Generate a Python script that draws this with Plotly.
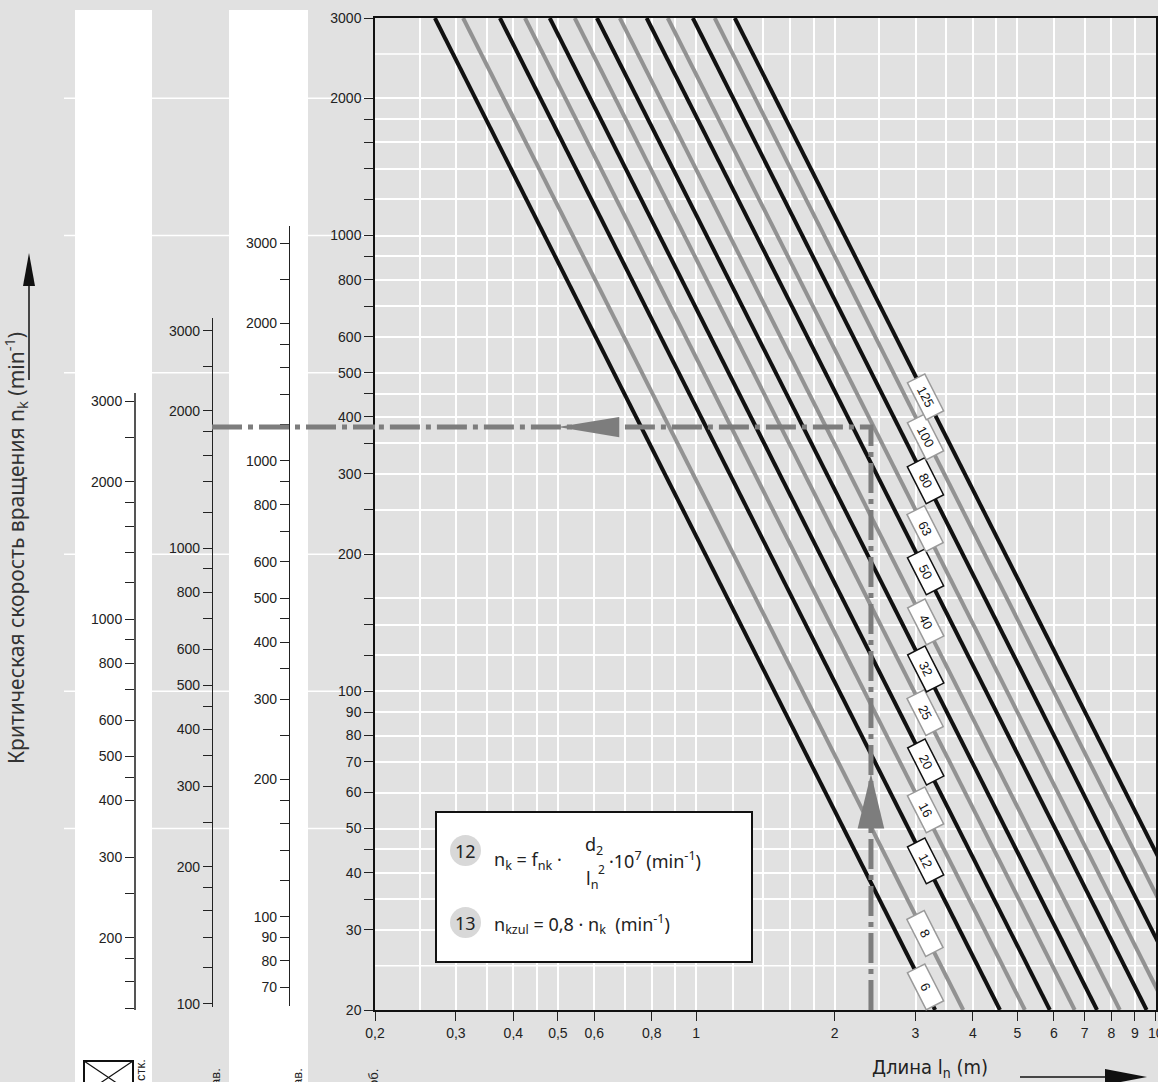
import numpy as np
import plotly.graph_objects as go

W, H = 1158, 1082

# spindle diameters d2 (mm) and where each line crosses n=3000 and n=20
diameters = [6, 8, 12, 16, 20, 25, 32, 40, 50, 63, 80, 100, 125]
len_at_3000 = [0.270, 0.311, 0.374, 0.424, 0.480, 0.544, 0.608, 0.682, 0.780, 0.867, 0.983, 1.097, 1.213]
len_at_20 = [3.31, 3.81, 4.58, 5.19, 5.88, 6.66, 7.45, 8.35, 9.55, 10.6, 12.0, 13.4, 14.9]

# diameter tags sitting on the lines
label_len = 3.15
label_speed = [22.5, 29.5, 42.5, 55, 70, 90, 112, 142, 183, 228, 290, 362, 443]
label_edge = ['g', 'g', 'k', 'g', 'k', 'g', 'k', 'g', 'k', 'g', 'k', 'g', 'g']

# main axes
x_ticks = [0.2, 0.3, 0.4, 0.5, 0.6, 0.8, 1, 2, 3, 4, 5, 6, 7, 8, 9, 10]
x_ticktext = ['0,2', '0,3', '0,4', '0,5', '0,6', '0,8', '1', '2', '3', '4', '5', '6', '7', '8', '9', '10']
x_grid_extra = [0.25, 0.35, 0.45, 0.7, 0.9, 1.2, 1.4, 1.6, 1.8, 2.5, 3.5, 4.5]

y_labels = [20, 30, 40, 50, 60, 70, 80, 90, 100, 200, 300, 400, 500, 600, 800, 1000, 2000, 3000]
y_marks = [35, 45, 120, 140, 160, 250, 350, 450, 700, 900, 1200, 1400, 1600, 1800]
y_grid_extra = [25, 2500]
y_grid_left = [2000, 1000, 500, 200, 100, 50]

# the three side scales (other bearing cases)
scaleA_labels = [200, 300, 400, 500, 600, 800, 1000, 2000, 3000]
scaleA_marks = [140, 160, 180, 250, 450, 700, 900, 1200, 1400, 1600, 1800, 2500]
scaleB_labels = [100, 200, 300, 400, 500, 600, 800, 1000, 2000, 3000]
scaleB_marks = [120, 140, 160, 180, 250, 350, 450, 700, 900, 1200, 1400, 1600, 1800, 2500]
scaleC_labels = [70, 80, 90, 100, 200, 300, 400, 500, 600, 800, 1000, 2000, 3000]
scaleC_marks = [120, 140, 160, 180, 250, 350, 450, 700, 900, 1200, 1400, 1600, 1800, 2500]
scale_factor = {'A': 6.94, 'B': 4.85, 'C': 3.12}

# worked example
example_len = 2.4
example_speed = 380
up_head_x = [2.4, 2.245, 2.565, 2.4]
up_head_y = [66, 50, 50, 66]
left_head_x = [0.5, 0.68, 0.68, 0.5]
left_head_y = [380, 400, 361, 380]


def px_x(p):
    return p / W


def px_y(p):
    return 1 - p / H


TOP, BOTTOM = 18, 1010


def main_log_at(p):
    s = (np.log10(3000) - np.log10(20)) / (BOTTOM - TOP)
    return np.log10(3000) - (p - TOP) * s


BLACK = '#111111'
GRAY = '#929292'
tick_font = dict(family='Liberation Sans, Arial, sans-serif', size=14, color='#222222')
text_font = dict(family='Noto Sans, Open Sans, sans-serif', size=18, color='#222222')

fig = go.Figure()

for i, d in enumerate(diameters):
    fig.add_trace(go.Scatter(
        x=[len_at_3000[i], len_at_20[i]], y=[3000, 20], mode='lines',
        line=dict(color=BLACK if i % 2 == 0 else GRAY, width=4),
        hoverinfo='skip', showlegend=False))

fig.add_trace(go.Scatter(
    x=[example_len, example_len, 0.2], y=[20, example_speed, example_speed], mode='lines',
    line=dict(color='#7d7d7d', width=5, dash='30px,6px,5px,6px'),
    hoverinfo='skip', showlegend=False))
for hx, hy in [(up_head_x, up_head_y), (left_head_x, left_head_y)]:
    fig.add_trace(go.Scatter(x=hx, y=hy, mode='lines', fill='toself', fillcolor='#7d7d7d',
                             line=dict(width=0, color='#7d7d7d'), hoverinfo='skip', showlegend=False))

# invisible anchors so the side scales get drawn
for ax in ['y2', 'y3', 'y4']:
    fig.add_trace(go.Scatter(x=[0.5], y=[300], xaxis='x2', yaxis=ax, mode='markers',
                             marker=dict(opacity=0), hoverinfo='skip', showlegend=False))


def scale_axis(labels, marks, factor, top_px, bottom_px, pos_px, lcolor, lwidth):
    return dict(
        type='log', domain=[px_y(bottom_px), px_y(top_px)],
        range=[main_log_at(bottom_px) + np.log10(factor), main_log_at(top_px) + np.log10(factor)],
        anchor='free', position=px_x(pos_px), side='left',
        tickmode='array', tickvals=labels, ticktext=[str(v) for v in labels],
        ticks='outside', ticklen=9, tickwidth=1, tickcolor='#222222',
        minor=dict(tickmode='array', tickvals=marks, ticks='outside', ticklen=9, tickwidth=1,
                   tickcolor='#222222', showgrid=False),
        showline=True, linecolor=lcolor, linewidth=lwidth,
        showgrid=False, zeroline=False, tickfont=tick_font, fixedrange=True)


fig.update_layout(
    template='none', width=W, height=H, margin=dict(l=0, r=0, t=0, b=0),
    paper_bgcolor='#e1e1e1', plot_bgcolor='rgba(0,0,0,0)', showlegend=False,
    xaxis=dict(
        type='log', domain=[px_x(375), px_x(1156)], range=[np.log10(0.2), 1.0004], anchor='y',
        tickmode='array', tickvals=x_ticks, ticktext=x_ticktext, ticklabeloverflow='allow',
        ticks='outside', ticklen=9, tickwidth=1, tickcolor='#222222',
        showline=True, linecolor='#111111', linewidth=1.5, mirror=True,
        showgrid=True, gridcolor='white', gridwidth=1.5, zeroline=False,
        minor=dict(tickmode='array', tickvals=x_grid_extra, ticks='', showgrid=True,
                   gridcolor='white', gridwidth=1.5),
        tickfont=tick_font, fixedrange=True),
    yaxis=dict(
        type='log', domain=[px_y(BOTTOM), px_y(TOP)], range=[np.log10(20), np.log10(3000)], anchor='x',
        tickmode='array', tickvals=y_labels, ticktext=[str(v) for v in y_labels],
        ticks='outside', ticklen=9, tickwidth=1, tickcolor='#222222',
        showline=True, linecolor='#111111', linewidth=1.5, mirror=True,
        showgrid=True, gridcolor='white', gridwidth=1.5, zeroline=False,
        minor=dict(tickmode='array', tickvals=y_marks, ticks='outside', ticklen=9, tickwidth=1,
                   tickcolor='#222222', showgrid=True, gridcolor='white', gridwidth=1.5),
        tickfont=tick_font, fixedrange=True),
    xaxis2=dict(domain=[0, 0.3], range=[0, 1], visible=False, anchor='y2'),
    yaxis2=scale_axis(scaleA_labels, scaleA_marks, scale_factor['A'], 393, 1010, 135, '#555555', 2),
    yaxis3=scale_axis(scaleB_labels, scaleB_marks, scale_factor['B'], 318, 1007, 212, '#222222', 1.2),
    yaxis4=scale_axis(scaleC_labels, scaleC_marks, scale_factor['C'], 226, 1006, 289, '#222222', 1.2),
)

shapes = []
# white columns behind the side scales
for x0, x1 in [(75, 152), (229, 308)]:
    shapes.append(dict(type='rect', xref='paper', yref='paper', x0=px_x(x0), x1=px_x(x1),
                       y0=0, y1=px_y(10), fillcolor='white', line=dict(width=0), layer='below'))
# some grid lines run on to the left
for v in y_grid_left:
    shapes.append(dict(type='line', xref='paper', yref='y', x0=px_x(64), x1=px_x(375), y0=v, y1=v,
                       line=dict(color='white', width=1.5), layer='below'))
# grid lines with no tick
for v in y_grid_extra:
    shapes.append(dict(type='line', xref='paper', yref='y', x0=px_x(375), x1=px_x(1156), y0=v, y1=v,
                       line=dict(color='white', width=1.5), layer='below'))
# dash-dot reading line continues to scale B
shapes.append(dict(type='line', xref='paper', yref='y', x0=px_x(212), x1=px_x(375),
                   y0=example_speed, y1=example_speed,
                   line=dict(color='#7d7d7d', width=5, dash='30px,6px,5px,6px')))
# formula box
shapes.append(dict(type='rect', xref='paper', yref='paper', x0=px_x(436), x1=px_x(752),
                   y0=px_y(962), y1=px_y(812), fillcolor='white', line=dict(color='#111111', width=2)))
for cy in [851, 923]:
    shapes.append(dict(type='circle', xref='paper', yref='paper', x0=px_x(450), x1=px_x(481),
                       y0=px_y(cy + 15), y1=px_y(cy - 16), fillcolor='#d8d8d8', line=dict(width=0)))
# up arrow beside the y title
shapes.append(dict(type='line', xref='paper', yref='paper', x0=px_x(29), x1=px_x(29),
                   y0=px_y(380), y1=px_y(280), line=dict(color='#111111', width=1.5)))
shapes.append(dict(type='path', xref='paper', yref='paper',
                   path=f'M {px_x(29)},{px_y(253)} L {px_x(23)},{px_y(286)} L {px_x(35)},{px_y(286)} Z',
                   fillcolor='#111111', line=dict(width=0)))
# right arrow after the x title
shapes.append(dict(type='line', xref='paper', yref='paper', x0=px_x(1020), x1=px_x(1110),
                   y0=px_y(1077), y1=px_y(1077), line=dict(color='#111111', width=1.5)))
shapes.append(dict(type='path', xref='paper', yref='paper',
                   path=f'M {px_x(1147)},{px_y(1077)} L {px_x(1105)},{px_y(1069)} L {px_x(1105)},{px_y(1085)} Z',
                   fillcolor='#111111', line=dict(width=0)))
# crossed box symbol at bottom left
shapes.append(dict(type='rect', xref='paper', yref='paper', x0=px_x(84), x1=px_x(133),
                   y0=px_y(1094), y1=px_y(1061), fillcolor='white', line=dict(color='#111111', width=2)))
for ya, yb in [(1061, 1094), (1094, 1061)]:
    shapes.append(dict(type='line', xref='paper', yref='paper', x0=px_x(84), x1=px_x(133),
                       y0=px_y(ya), y1=px_y(yb), line=dict(color='#111111', width=1.2)))
fig.update_layout(shapes=shapes)

# diameter tags
for d, n, e in zip(diameters, label_speed, label_edge):
    fig.add_annotation(x=np.log10(label_len), y=np.log10(n), xref='x', yref='y', text=str(d),
                       showarrow=False, textangle=63, width=36, height=14, borderpad=2,
                       bgcolor='white', bordercolor=BLACK if e == 'k' else '#9a9a9a', borderwidth=1.5,
                       font=dict(family='Liberation Sans, Arial, sans-serif', size=13, color='#111111'))

fig.add_annotation(xref='paper', yref='paper', x=px_x(15), y=px_y(548), xanchor='center', yanchor='middle',
                   showarrow=False, textangle=-90,
                   text='Критическая скорость вращения n<sub>k</sub> (min<sup>-1</sup>)',
                   font=dict(family='Noto Sans, Open Sans, sans-serif', size=21, color='#333333'))
fig.add_annotation(xref='paper', yref='paper', x=px_x(930), y=px_y(1068), xanchor='center', yanchor='middle',
                   showarrow=False, text='Длина l<sub>n</sub> (m)',
                   font=dict(family='Liberation Sans Narrow, DejaVu Sans Condensed, sans-serif', size=20,
                             color='#222222'))

# support-type captions under the side scales (cut by the page edge)
for txt, xp, yp in [('стк.', 140, 1057), ('ав.', 215, 1066), ('ав.', 297, 1066), ('об.', 373, 1067)]:
    fig.add_annotation(xref='paper', yref='paper', x=px_x(xp), y=px_y(yp), xanchor='center', yanchor='top',
                       showarrow=False, textangle=-90, text=txt,
                       font=dict(family='Liberation Sans, Arial, sans-serif', size=13, color='#222222'))

# formulas
formula = [
    ('12', 465, 851, 'center'),
    ('n<sub>k</sub> = f<sub>nk</sub> ·', 492, 860, 'left'),
    ('d<sub>2</sub>', 594, 845, 'center'),
    ('l<sub>n</sub>', 592, 879, 'center'),
    ('·10<sup>7</sup> (min<sup>-1</sup>)', 607, 860, 'left'),
    ('13', 465, 923, 'center'),
    ('n<sub>kzul</sub> = 0,8 · n<sub>k</sub>  (min<sup>-1</sup>)', 492, 924, 'left'),
]
for txt, xp, yp, anc in formula:
    fig.add_annotation(xref='paper', yref='paper', x=px_x(xp), y=px_y(yp), xanchor=anc, yanchor='middle',
                       showarrow=False, text=txt, font=text_font)
fig.add_annotation(xref='paper', yref='paper', x=px_x(601), y=px_y(869), xanchor='center', yanchor='middle',
                   showarrow=False, text='2',
                   font=dict(family='Noto Sans, Open Sans, sans-serif', size=12, color='#222222'))

fig.write_html('out.html', config={'displayModeBar': False},
               post_script="document.body.style.margin='0px';document.body.style.overflow='hidden';")
